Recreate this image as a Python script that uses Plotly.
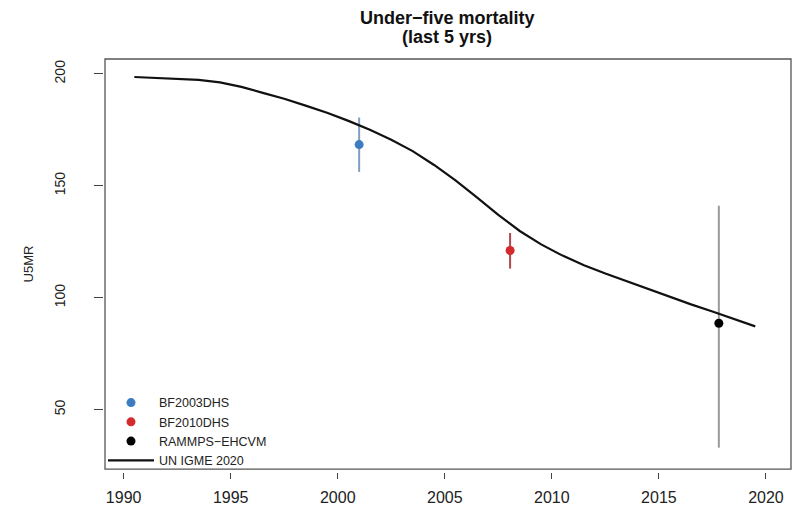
import plotly.graph_objects as go

# UN IGME 2020 estimates (mid-year)
igme_years = [1990.5, 1991.5, 1992.5, 1993.5, 1994.5, 1995.5, 1996.5, 1997.5, 1998.5, 1999.5,
              2000.5, 2001.5, 2002.5, 2003.5, 2004.5, 2005.5, 2006.5, 2007.5, 2008.5, 2009.5,
              2010.5, 2011.5, 2012.5, 2013.5, 2014.5, 2015.5, 2016.5, 2017.5, 2018.5, 2019.5]
igme_u5mr = [198.6, 198.2, 197.9, 197.3, 196.2, 194.2, 191.5, 188.9, 185.8, 182.6,
             179.0, 175.0, 170.6, 165.5, 159.3, 152.4, 144.8, 137.0, 129.8, 123.8,
             118.8, 114.5, 110.8, 107.3, 103.8, 100.4, 97.0, 93.8, 90.5, 87.2]

# Survey estimates with confidence intervals
surveys = ["BF2003DHS", "BF2010DHS", "RAMMPS\u2212EHCVM"]
survey_years = [2001.0, 2008.05, 2017.8]
survey_u5mr = [168.4, 121.1, 88.6]
survey_lower = [156.2, 113.0, 33.0]
survey_upper = [180.5, 128.9, 141.1]
marker_colors = ["#3B7DC0", "#D42A2E", "#000000"]
ci_colors = ["#7E9FC2", "#B0474A", "#9A9A9A"]

x_ticks = [1990, 1995, 2000, 2005, 2010, 2015, 2020]
y_ticks = [50, 100, 150, 200]

fig = go.Figure()

for name, x, y, lo, hi, mc, cc in zip(surveys, survey_years, survey_u5mr,
                                        survey_lower, survey_upper, marker_colors, ci_colors):
    fig.add_trace(go.Scatter(
        x=[x], y=[y], mode="markers", name=name,
        marker=dict(color=mc, size=9, line=dict(width=0)),
        error_y=dict(type="data", symmetric=False, array=[hi - y], arrayminus=[y - lo],
                     color=cc, thickness=2, width=0),
    ))

fig.add_trace(go.Scatter(
    x=igme_years, y=igme_u5mr, mode="lines", name="UN IGME 2020",
    line=dict(color="#111111", width=2.2),
))

FONT = "Liberation Sans, Arial, Helvetica, sans-serif"
H = 508
T, B = 59, 32
PH = H - T - B


def paper_y(py):
    return (H - B - py) / PH


fig.update_layout(
    width=793, height=508,
    paper_bgcolor="white", plot_bgcolor="white",
    margin=dict(l=103, r=2, t=T, b=B),
    font=dict(family=FONT, color="#222222"),
    showlegend=True,
    legend=dict(
        x=0.0, y=paper_y(479), xanchor="left", yanchor="bottom",
        bgcolor="rgba(0,0,0,0)", borderwidth=0,
        font=dict(family=FONT, size=12.5, color="#222222"),
        itemwidth=46, tracegroupgap=0,
    ),
    xaxis=dict(
        domain=[2 / 687, 1], range=[1989.13, 2021.17],
        anchor="free", position=0,
        tickmode="array", tickvals=x_ticks, ticktext=[str(v) for v in x_ticks],
        ticks="outside", ticklen=6, tickwidth=1, tickcolor="#444444",
        ticklabelstandoff=5,
        showline=False, showgrid=False, zeroline=False,
        tickfont=dict(family=FONT, size=16, color="#222222"),
    ),
    yaxis=dict(
        domain=[3 / PH, 1], range=[23.45, 206.64],
        anchor="free", position=0,
        tickmode="array", tickvals=y_ticks, ticktext=[str(v) for v in y_ticks],
        ticks="outside", ticklen=9, tickwidth=1, tickcolor="#444444",
        tickangle=-90, ticklabelstandoff=23,
        showline=False, showgrid=False, zeroline=False,
        tickfont=dict(family=FONT, size=14, color="#222222"),
        title=dict(text="U5MR", standoff=14, font=dict(family=FONT, size=13, color="#222222")),
    ),
    annotations=[
        dict(text="<b>Under\u2212five mortality</b>", xref="paper", yref="paper",
             x=(447.5 - 103) / 688, y=paper_y(18), xanchor="center", yanchor="middle",
             showarrow=False, font=dict(family=FONT, size=18, color="#111111")),
        dict(text="<b>(last 5 yrs)</b>", xref="paper", yref="paper",
             x=(447.5 - 103) / 688, y=paper_y(36.5), xanchor="center", yanchor="middle",
             showarrow=False, font=dict(family=FONT, size=18, color="#111111")),
    ],
    shapes=[dict(type="rect", xref="x domain", yref="y domain", x0=0, x1=1, y0=0, y1=1,
                 line=dict(color="#555555", width=1.3), fillcolor="rgba(0,0,0,0)", layer="above")],
)

fig.write_html("out.html", config={"displayModeBar": False},
               post_script="document.body.style.margin='0';")
